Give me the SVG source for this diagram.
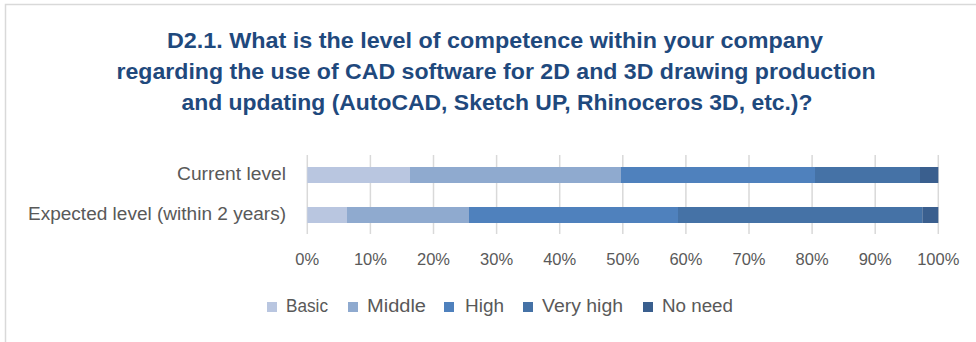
<svg xmlns="http://www.w3.org/2000/svg" width="976" height="342" viewBox="0 0 976 342">
<style>
.title{font-family:"Liberation Sans",Arial,sans-serif;font-weight:bold;font-size:22.5px;fill:#1f497d;text-anchor:middle}
.lbl{font-family:"Liberation Sans",Arial,sans-serif;font-size:17.5px;fill:#595959}
.tick{font-family:"Liberation Sans",Arial,sans-serif;font-size:16.5px;fill:#595959;text-anchor:middle}
.grid{stroke:#d9d9d9;stroke-width:1.5}
.basic{fill:#b9c6e0}.middle{fill:#8faacf}.high{fill:#4f81bd}.vhigh{fill:#4572a6}.noneed{fill:#3a5f8e}
</style>
<rect x="0" y="0" width="976" height="342" fill="#ffffff"/>
<rect x="5.5" y="4.5" width="1000" height="400" fill="none" stroke="#d9d9d9" stroke-width="1.5"/>
<g id="title">
<text class="title" x="495" y="48" textLength="656" lengthAdjust="spacingAndGlyphs">D2.1. What is the level of competence within your company</text>
<text class="title" x="496" y="79" textLength="759" lengthAdjust="spacingAndGlyphs">regarding the use of CAD software for 2D and 3D drawing production</text>
<text class="title" x="497" y="110" textLength="631" lengthAdjust="spacingAndGlyphs">and updating (AutoCAD, Sketch UP, Rhinoceros 3D, etc.)?</text>
</g>
<g id="gridlines">
<line class="grid" x1="307.3" y1="155" x2="307.3" y2="234"/>
<line class="grid" x1="370.4" y1="155" x2="370.4" y2="234"/>
<line class="grid" x1="433.5" y1="155" x2="433.5" y2="234"/>
<line class="grid" x1="496.6" y1="155" x2="496.6" y2="234"/>
<line class="grid" x1="559.7" y1="155" x2="559.7" y2="234"/>
<line class="grid" x1="622.8" y1="155" x2="622.8" y2="234"/>
<line class="grid" x1="685.9" y1="155" x2="685.9" y2="234"/>
<line class="grid" x1="749" y1="155" x2="749" y2="234"/>
<line class="grid" x1="812.1" y1="155" x2="812.1" y2="234"/>
<line class="grid" x1="875.2" y1="155" x2="875.2" y2="234"/>
<line class="grid" x1="938.3" y1="155" x2="938.3" y2="234"/>
</g>
<g id="bar-current">
<rect class="basic" x="307.3" y="167" width="102.7" height="16"/>
<rect class="middle" x="410" y="167" width="211" height="16"/>
<rect class="high" x="621" y="167" width="194" height="16"/>
<rect class="vhigh" x="815" y="167" width="105" height="16"/>
<rect class="noneed" x="920" y="167" width="18.3" height="16"/>
</g>
<g id="bar-expected">
<rect class="basic" x="307.3" y="207" width="39.7" height="16"/>
<rect class="middle" x="347" y="207" width="122" height="16"/>
<rect class="high" x="469" y="207" width="209" height="16"/>
<rect class="vhigh" x="678" y="207" width="244.3" height="16"/>
<rect class="noneed" x="922.3" y="207" width="16" height="16"/>
</g>
<g id="category-labels">
<text class="lbl" x="286" y="180" text-anchor="end" textLength="109" lengthAdjust="spacingAndGlyphs">Current level</text>
<text class="lbl" x="286" y="220" text-anchor="end" textLength="258" lengthAdjust="spacingAndGlyphs">Expected level (within 2 years)</text>
</g>
<g id="axis-labels">
<text class="tick" x="307.3" y="265">0%</text>
<text class="tick" x="370.4" y="265">10%</text>
<text class="tick" x="433.5" y="265">20%</text>
<text class="tick" x="496.6" y="265">30%</text>
<text class="tick" x="559.7" y="265">40%</text>
<text class="tick" x="622.8" y="265">50%</text>
<text class="tick" x="685.9" y="265">60%</text>
<text class="tick" x="749" y="265">70%</text>
<text class="tick" x="812.1" y="265">80%</text>
<text class="tick" x="875.2" y="265">90%</text>
<text class="tick" x="938.3" y="265">100%</text>
</g>
<g id="legend">
<rect class="basic" x="267" y="302" width="10" height="10"/>
<text class="lbl" x="286" y="312" textLength="42" lengthAdjust="spacingAndGlyphs">Basic</text>
<rect class="middle" x="348" y="302" width="10" height="10"/>
<text class="lbl" x="367" y="312" textLength="59" lengthAdjust="spacingAndGlyphs">Middle</text>
<rect class="high" x="444" y="302" width="10" height="10"/>
<text class="lbl" x="465" y="312" textLength="39" lengthAdjust="spacingAndGlyphs">High</text>
<rect class="vhigh" x="523" y="302" width="10" height="10"/>
<text class="lbl" x="542" y="312" textLength="81" lengthAdjust="spacingAndGlyphs">Very high</text>
<rect class="noneed" x="643" y="302" width="10" height="10"/>
<text class="lbl" x="662" y="312" textLength="71" lengthAdjust="spacingAndGlyphs">No need</text>
</g>
</svg>
